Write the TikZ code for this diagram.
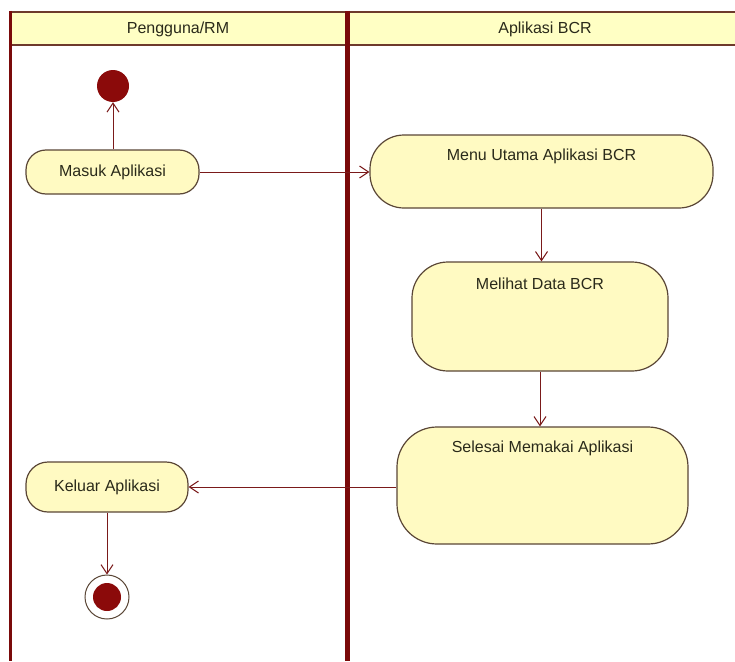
\documentclass[tikz,border=0pt]{standalone}
\usepackage{fontspec}
\setmainfont{Liberation Sans}
\usetikzlibrary{arrows.meta,calc}

\definecolor{lane}{HTML}{7A0A0A}
\definecolor{headfill}{HTML}{FFFFC4}
\definecolor{headline}{HTML}{6E3A2C}
\definecolor{actfill}{HTML}{FFFAC2}
\definecolor{actline}{HTML}{5A4636}
\definecolor{flow}{HTML}{7A1A1A}
\definecolor{dot}{HTML}{8B0A0A}
\definecolor{ink}{HTML}{2A2A1A}

\begin{document}
\begin{tikzpicture}[x=1pt,y=-1pt,
  font=\fontsize{16}{18}\selectfont,
  action/.style={draw=actline, line width=1.2pt, fill=actfill,
    rounded corners=#1, inner sep=0pt, text=ink},
  action/.default=20pt,
  lanehead/.style={text=ink, inner sep=0pt},
  toplabel/.style={anchor=center, yshift=-22pt, text=ink},
  flowarrow/.style={draw=flow, line width=1pt,
    -{Straight Barb[length=9pt,width=12pt]}},
  startdot/.style={circle, fill=dot, minimum size=32pt, inner sep=0pt},
  endring/.style={circle, draw=actline, line width=1pt, fill=white,
    minimum size=44pt, inner sep=0pt},
  enddot/.style={circle, fill=dot, minimum size=28pt, inner sep=0pt}]

% canvas
\fill[white] (0,0) rectangle (735,661);
\useasboundingbox (0,0) rectangle (735,661);

% swimlane header and borders
\fill[headfill] (10,12) rectangle (735,45);
\draw[headline, line width=2.5pt] (10,12) -- (735,12);
\draw[headline, line width=1.5pt] (10,45) -- (735,45);
\draw[lane, line width=3pt] (10,11) -- (10,661);
\draw[lane, line width=5pt] (347,11) -- (347,661);

\node[lanehead] (laneA) at (178,29) {Pengguna/RM};
\node[lanehead] (laneB) at (545,29) {Aplikasi BCR};

% initial and final nodes
\node[startdot] (start) at (113,86) {};
\node[endring] (finish) at (107,597) {};
\node[enddot] (finishdot) at (finish.center) {};

% actions
\node[action=20pt, minimum width=173pt, minimum height=44pt] (masuk) at (112.5,172) {Masuk Aplikasi};
\node[action=22pt, minimum width=162pt, minimum height=50pt] (keluar) at (107,487) {Keluar Aplikasi};
\node[action=34pt, minimum width=343pt, minimum height=73pt,
  label={[toplabel]north:Menu Utama Aplikasi BCR}] (menu) at (541.5,171.5) {};
\node[action=36pt, minimum width=256pt, minimum height=109pt,
  label={[toplabel]north:Melihat Data BCR}] (melihat) at (540,316.5) {};
\node[action=40pt, minimum width=291pt, minimum height=117pt,
  label={[toplabel]north:Selesai Memakai Aplikasi}] (selesai) at (542.5,485.5) {};

% control flows
\draw[flowarrow] (masuk.north -| start) -- (start.south);
\draw[flowarrow] (masuk.east) -- (masuk.east -| menu.west);
\draw[flowarrow] (menu.south) -- (menu.south |- melihat.north);
\draw[flowarrow] (melihat.south) -- (melihat.south |- selesai.north);
\draw[flowarrow] (selesai.west |- keluar.east) -- (keluar.east);
\draw[flowarrow] (keluar.south) -- (finish.north);

\end{tikzpicture}
\end{document}
